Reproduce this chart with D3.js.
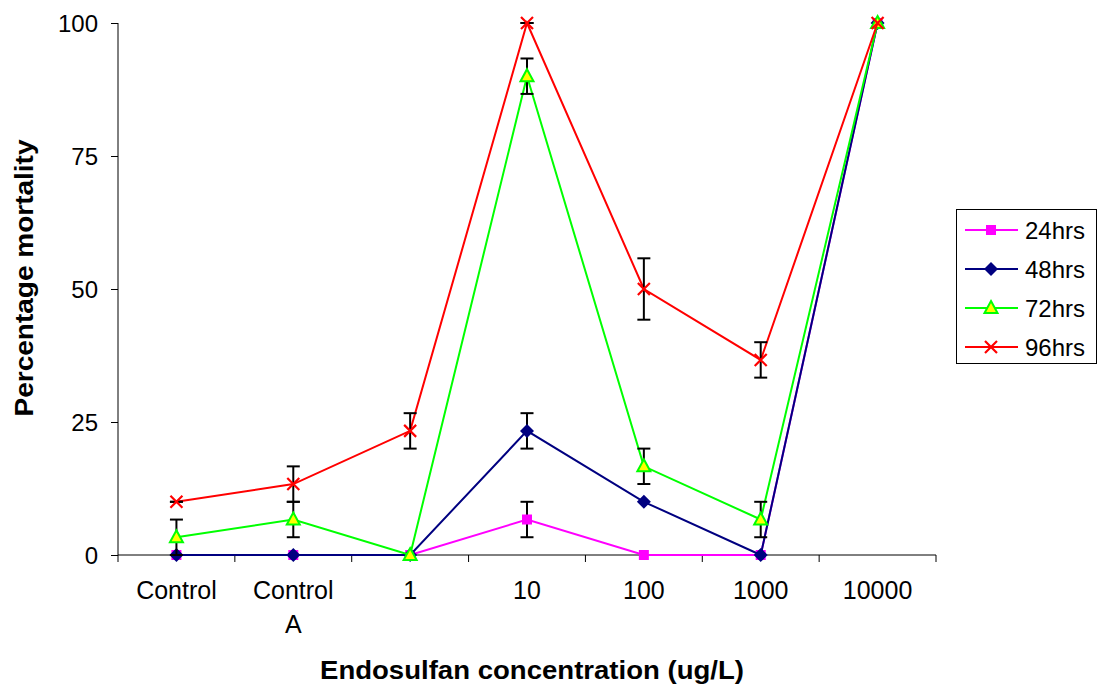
<!DOCTYPE html>
<html><head><meta charset="utf-8">
<script src="https://cdn.jsdelivr.net/npm/d3@7"></script>
<style>body{margin:0;background:#fff;} text{font-family:"Liberation Sans",Arial,sans-serif;}</style>
</head><body><svg id="c" width="1097" height="690"></svg>
<script>
const categories = ["Control", "Control A", "1", "10", "100", "1000", "10000"];
const seriesNames = ["24hrs", "48hrs", "72hrs", "96hrs"];
const v24 = [0, 0, 0, 6.67, 0, 0, 100];
const v48 = [0, 0, 0, 23.33, 10, 0, 100];
const v72 = [3.33, 6.67, 0, 90, 16.67, 6.67, 100];
const v96 = [10, 13.33, 23.33, 100, 50, 36.67, 100];
const e24 = [0, 0, 0, 3.33, 0, 0, 0];
const e48 = [0, 0, 0, 3.33, 0, 0, 0];
const e72 = [3.33, 3.33, 0, 3.33, 3.33, 3.33, 0];
const e96 = [0, 3.33, 3.33, 0, 5.77, 3.33, 0];
const yTicks = [0, 25, 50, 75, 100];

const colors = ["#FF00FF", "#000080", "#00FF00", "#FF0000"];
const symbols = ["square", "diamond", "triangle", "cross"];
const vals = [v24, v48, v72, v96];
const errs = [e24, e48, e72, e96];

const svg = d3.select("#c");
const L = 118, R = 936, T = 23, B = 555;
const x = d3.scaleBand().domain(categories).range([L, R]).paddingInner(0).paddingOuter(0);
const y = d3.scaleLinear().domain([0, 100]).range([B, T]);
const cx = c => x(c) + x.bandwidth() / 2;

// axes
const yAx = svg.append("g").attr("transform", `translate(${L},0)`)
  .call(d3.axisLeft(y).tickValues(yTicks).tickSize(7).tickPadding(13));
yAx.selectAll("text").attr("font-size", 24).attr("fill", "#000").attr("dy", "0.36em");
yAx.selectAll("line,path").attr("stroke", "#000");
yAx.select(".domain").attr("d", `M0,${T}V${B}`);

const xAx = svg.append("g").attr("transform", `translate(0,${B})`);
xAx.append("line").attr("x1", L).attr("x2", R).attr("stroke", "#000");
const bounds = categories.map(c => x(c)).concat([R]);
xAx.selectAll("line.t").data(bounds).join("line").attr("class", "t")
  .attr("x1", d => d).attr("x2", d => d).attr("y1", 0).attr("y2", 7).attr("stroke", "#000");
const labelLines = {"Control A": ["Control", "A"]};
categories.forEach(c => {
  const lines = labelLines[c] || [c];
  lines.forEach((ln, i) => {
    xAx.append("text").attr("x", cx(c)).attr("y", 44 + i * 34).attr("text-anchor", "middle")
      .attr("font-size", 25).text(ln);
  });
});

svg.append("text").attr("x", 532).attr("y", 679).attr("text-anchor", "middle")
  .attr("font-size", 26).attr("font-weight", "bold")
  .attr("textLength", 424).attr("lengthAdjust", "spacingAndGlyphs")
  .text("Endosulfan concentration (ug/L)");
svg.append("text").attr("transform", "translate(33,278) rotate(-90)").attr("text-anchor", "middle")
  .attr("font-size", 26).attr("font-weight", "bold")
  .attr("textLength", 277).attr("lengthAdjust", "spacingAndGlyphs")
  .text("Percentage mortality");

function drawMarker(g, type, color, px, py) {
  if (type === "square") {
    g.append("rect").attr("x", px - 5).attr("y", py - 5).attr("width", 10).attr("height", 10).attr("fill", color);
  } else if (type === "diamond") {
    g.append("path").attr("d", `M${px},${py-7}L${px+7},${py}L${px},${py+7}L${px-7},${py}Z`).attr("fill", color);
  } else if (type === "triangle") {
    g.append("path").attr("d", `M${px},${py-7}L${px+6.5},${py+5}L${px-6.5},${py+5}Z`)
      .attr("fill", "#FFFF00").attr("stroke", color).attr("stroke-width", 2);
  } else {
    g.append("path").attr("d", `M${px-6},${py-6}L${px+6},${py+6}M${px+6},${py-6}L${px-6},${py+6}`)
      .attr("stroke", color).attr("stroke-width", 2.2).attr("fill", "none");
  }
}

const line = d3.line().x((d, i) => cx(categories[i])).y(d => y(d));
vals.forEach((vs, s) => {
  const g = svg.append("g");
  g.append("path").datum(vs).attr("d", line).attr("fill", "none").attr("stroke", colors[s]).attr("stroke-width", 2);
  vs.forEach((v, i) => {
    const e = errs[s][i];
    if (e > 0 || (s === 3 && (i === 0 || i === 3))) {
      const px = cx(categories[i]);
      const lo = Math.max(0, v - e), hi = Math.min(100, v + e);
      g.append("line").attr("x1", px).attr("x2", px).attr("y1", y(lo)).attr("y2", y(hi)).attr("stroke", "#000").attr("stroke-width", 2);
      [lo, hi].forEach(b => g.append("line").attr("x1", px - 6.5).attr("x2", px + 6.5).attr("y1", y(b)).attr("y2", y(b)).attr("stroke", "#000").attr("stroke-width", 2));
    }
  });
  vs.forEach((v, i) => drawMarker(g, symbols[s], colors[s], cx(categories[i]), y(v)));
});

// legend
const lg = svg.append("g");
lg.append("rect").attr("x", 956.5).attr("y", 209.5).attr("width", 140).attr("height", 154)
  .attr("fill", "#fff").attr("stroke", "#000").attr("stroke-width", 1);
seriesNames.forEach((n, s) => {
  const yy = 230 + s * 39;
  lg.append("line").attr("x1", 965).attr("x2", 1018).attr("y1", yy).attr("y2", yy).attr("stroke", colors[s]).attr("stroke-width", 2);
  drawMarker(lg, symbols[s], colors[s], 991, yy);
  lg.append("text").attr("x", 1025).attr("y", yy + 8.5).attr("font-size", 24).text(n);
});
</script></body></html>
